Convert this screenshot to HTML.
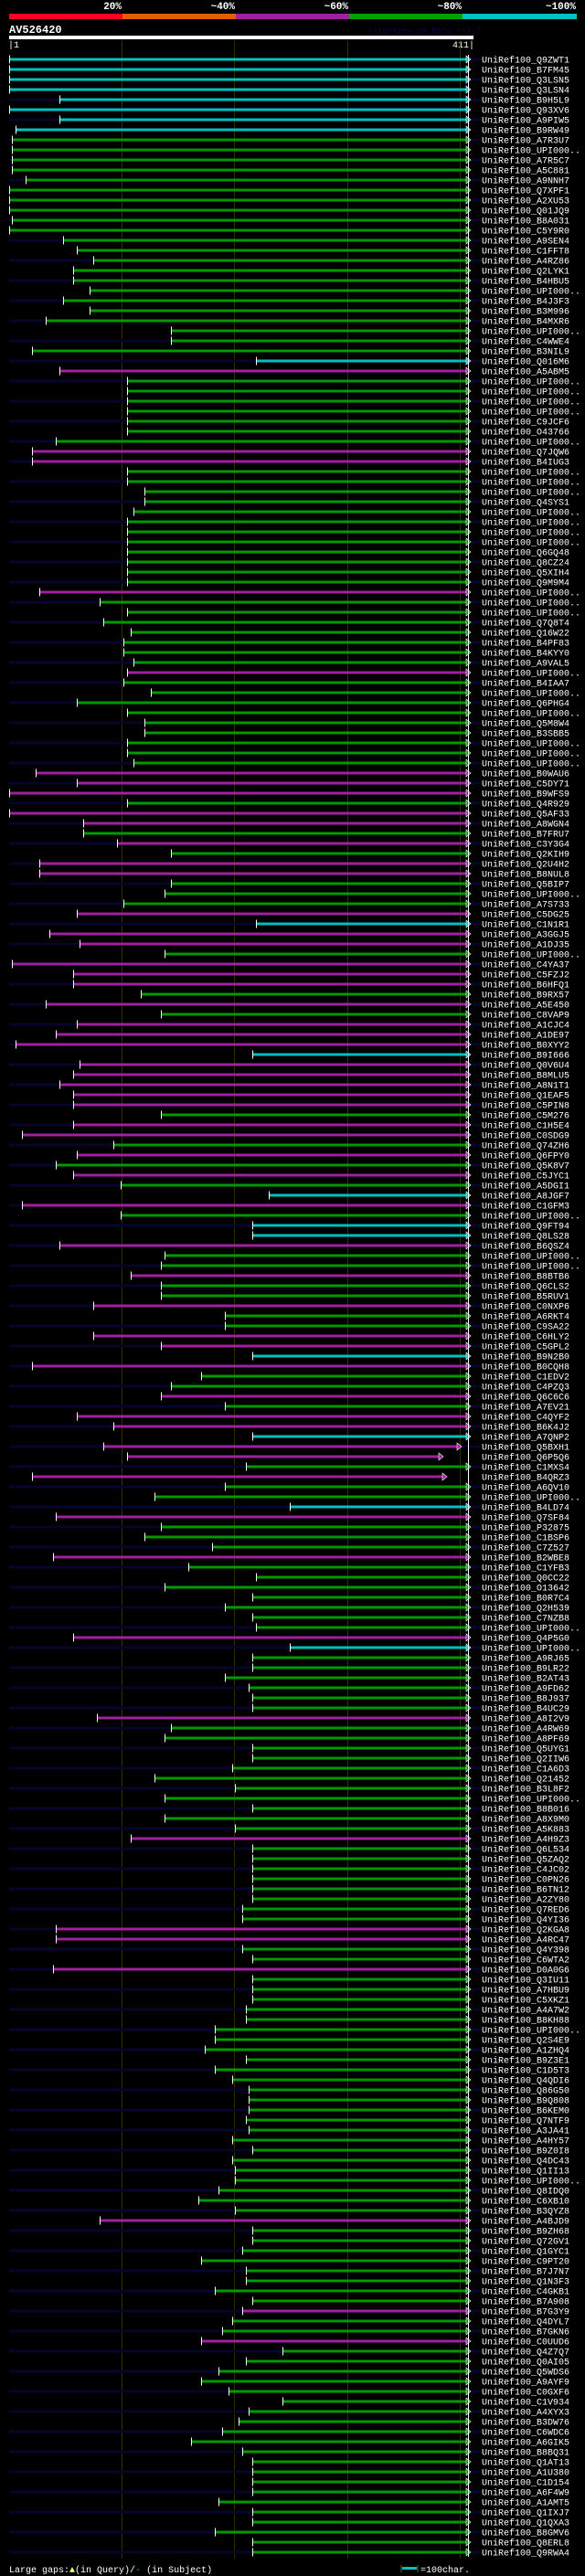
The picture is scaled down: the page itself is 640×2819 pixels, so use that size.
<!DOCTYPE html>
<html><head><meta charset="utf-8"><style>
html,body{margin:0;padding:0;background:#000;}
svg{display:block;}
text{font-family:"Liberation Mono",monospace;}
</style></head><body>
<svg id="chart" width="640" height="2819" viewBox="0 0 640 2819" xmlns="http://www.w3.org/2000/svg">
<rect x="0" y="0" width="640" height="2819" fill="#000"/>
<g>
<text x="133" y="10" fill="#fff" font-size="11" font-weight="bold" text-anchor="end">20%</text>
<text x="257" y="10" fill="#fff" font-size="11" font-weight="bold" text-anchor="end">~40%</text>
<text x="381" y="10" fill="#fff" font-size="11" font-weight="bold" text-anchor="end">~60%</text>
<text x="505" y="10" fill="#fff" font-size="11" font-weight="bold" text-anchor="end">~80%</text>
<text x="630" y="10" fill="#fff" font-size="11" font-weight="bold" text-anchor="end">~100%</text>
<rect x="10" y="15" width="124" height="6" fill="#ff0022"/>
<rect x="134" y="15" width="124" height="6" fill="#e06000"/>
<rect x="258" y="15" width="124" height="6" fill="#a020a0"/>
<rect x="382" y="15" width="124" height="6" fill="#00a000"/>
<rect x="506" y="15" width="125" height="6" fill="#00c0c0"/>
</g>
<text x="10" y="36" fill="#fff" font-size="12" font-weight="bold">AV526420</text>
<text x="402" y="36" fill="#0a0a40" font-size="9">AlignView.pm Beta rel.7</text>
<rect x="10" y="39" width="508" height="4" fill="#fff"/>
<text x="9" y="52" fill="#fff" font-size="10">|1</text>
<text x="519" y="52" fill="#fff" font-size="10" text-anchor="end">411|</text>
<g id="grid"></g>
<g id="rows"></g>
<line x1="512.5" y1="60" x2="512.5" y2="2798" stroke="#fff" stroke-width="1"/>
<g>
<text x="10" y="2815" fill="#fff" font-size="10">Large gaps:<tspan fill="#ffff80">▲</tspan>(in Query)/<tspan fill="#00c0c0">-</tspan> (in Subject)</text>
<line x1="439" y1="2807" x2="439" y2="2815" stroke="#776600"/>
<rect x="440" y="2809" width="16" height="3" fill="#00c0c0"/>
<line x1="457" y1="2807" x2="457" y2="2815" stroke="#776600"/>
<text x="460" y="2815" fill="#fff" font-size="10">=100char.</text>
</g>
</svg>
<script>
const starts = [10,10,10,10,65,10,65,17,13,13,13,13,28,10,10,10,13,10,69,84,102,80,80,98,69,98,50,187,187,35,280,65,139,139,139,139,139,139,61,35,35,
139,139,158,158,146,139,139,139,139,139,139,139,43,109,139,113,143,135,135,146,139,135,165,84,139,158,158,139,139,146,39,84,10,139,10,91,91,128,187,43,43,187,
180,135,84,280,54,87,180,13,80,80,154,50,176,84,61,17,276,87,80,65,80,80,176,80,24,124,84,61,80,132,294,24,132,276,276,65,180,176,143,176,176,102,
246,246,102,176,276,35,220,187,176,246,84,124,276,113,139,269,35,246,169,317,61,176,158,232,58,206,280,180,276,246,276,280,80,317,276,276,246,272,276,276,106,187,
180,276,276,254,169,257,180,276,180,257,143,276,276,276,276,276,276,265,265,61,61,265,276,58,276,276,276,269,269,235,235,224,269,235,254,272,272,272,269,272,254,276,
254,257,257,239,217,257,109,276,276,265,220,269,269,235,276,265,254,243,220,309,269,239,220,250,309,272,261,243,209,265,276,276,276,276,239,276,276,235,276,276];
const colorCodes = "cccccccc"+"gggggggggggggggggggggg"+"cm"+"ggggggg"+"mm"+"gggggggggggg"+"m"+"ggggggg"+"m"+"ggggggggg"+"mmm"+"g"+"mm"+"g"+"m"+"g"+"mm"+"ggg"+"m"+"c"+"mm"+"g"+"mmm"+"g"+"m"+"g"+"mmm"+"c"+"mmmmm"+"g"+"mm"+"g"+"m"+"g"+"m"+"g"+"c"+"m"+"g"+"cc"+"m"+"gg"+"m"+"gg"+"m"+"gg"+"mm"+"c"+"m"+"gg"+"m"+"g"+"mm"+"c"+"mm"+"g"+"m"+"gg"+"c"+"m"+"ggg"+"m"+"ggggggg"+"m"+"c"+"gggggg"+"m"+"ggggggggggg"+"m"+"gggggggg"+"mm"+"gg"+"m"+"gggggggggggggggggggggggg"+"m"+"gggggggg"+"m"+"gg"+"m"+"ggggggggggggggggggggg";
const endOverrides = {138:500,139:480,141:484};
const labels = ["Q9ZWT1","B7FM45","Q3LSN5","Q3LSN4","B9H5L9","Q93XV6","A9PIW5","B9RW49","A7R3U7","UPI000..","A7R5C7","A5C881","A9NNH7","Q7XPF1","A2XU53","Q01JQ9","B8A031","C5Y9R0","A9SEN4","C1FFT8","A4RZ86","Q2LYK1","B4HBU5","UPI000..","B4J3F3","B3M996","B4MXR6","UPI000..","C4WWE4","B3NIL9","Q016M6","A5ABM5","UPI000..","UPI000..","UPI000..","UPI000..","C9JCF6","O43766","UPI000..","Q7JQW6","B4IUG3",
"UPI000..","UPI000..","UPI000..","Q4SYS1","UPI000..","UPI000..","UPI000..","UPI000..","Q6GQ48","Q8CZ24","Q5XIH4","Q9M9M4","UPI000..","UPI000..","UPI000..","Q7Q8T4","Q16W22","B4PF83","B4KYY0","A9VAL5","UPI000..","B4IAA7","UPI000..","Q6PHG4","UPI000..","Q5M8W4","B3SBB5","UPI000..","UPI000..","UPI000..","B0WAU6","C5DY71","B9WFS9","Q4R929","Q5AF33","A8WGN4","B7FRU7","C3Y3G4","Q2KIH9","Q2U4H2","B8NUL8","Q5BIP7",
"UPI000..","A7S733","C5DG25","C1N1R1","A3GGJ5","A1DJ35","UPI000..","C4YA37","C5FZJ2","B6HFQ1","B9RX57","A5E450","C8VAP9","A1CJC4","A1DE97","B0XYY2","B9I666","Q0V6U4","B8MLU5","A8N1T1","Q1EAF5","C5PIN8","C5M276","C1H5E4","C0SDG9","Q74ZH6","Q6FPY0","Q5K8V7","C5JYC1","A5DGI1","A8JGF7","C1GFM3","UPI000..","Q9FT94","Q8LS28","B6QSZ4","UPI000..","UPI000..","B8BTB6","Q6CLS2","B5RUV1","C0NXP6",
"A6RKT4","C9SA22","C6HLY2","C5GPL2","B9N2B0","B0CQH8","C1EDV2","C4PZQ3","Q6C6C6","A7EV21","C4QYF2","B6K4J2","A7QNP2","Q5BXH1","Q6P5Q6","C1MXS4","B4QRZ3","A6QV10","UPI000..","B4LD74","Q7SF84","P32875","C1BSP6","C7Z527","B2WBE8","C1YFB3","Q0CC22","O13642","B0R7C4","Q2H539","C7NZB8","UPI000..","Q4P5G0","UPI000..","A9RJ65","B9LR22","B2AT43","A9FD62","B8J937","B4UC29","A8I2V9","A4RW69",
"A8PF69","Q5UYG1","Q2IIW6","C1A6D3","Q21452","B3L8F2","UPI000..","B8B016","A8X9M0","A5K883","A4H9Z3","Q6L534","Q5ZAQ2","C4JC02","C0PN26","B6TN12","A2ZY80","Q7RED6","Q4YI36","Q2KGA8","A4RC47","Q4Y398","C6WTA2","D0A0G6","Q3IU11","A7HBU9","C5XKZ1","A4A7W2","B8KH88","UPI000..","Q2S4E9","A1ZHQ4","B9Z3E1","C1D5T3","Q4QDI6","Q86G50","B9Q808","B6KEM0","Q7NTF9","A3JA41","A4HY57","B9Z0I8",
"Q4DC43","Q1II13","UPI000..","Q8IDQ0","C6XB10","B3QYZ8","A4BJD9","B9ZH68","Q72GV1","Q1GYC1","C9PT20","B7J7N7","Q1N3F3","C4GKB1","B7A908","B7G3Y9","Q4DYL7","B7GKN6","C0UUD6","Q4Z7Q7","Q0AI05","Q5WDS6","A9AYF9","C0GXF6","C1V934","A4XYX3","B3DW76","C6WDC6","A6GIK5","B8BQ31","Q1AT13","A1U380","C1D154","A6F4W9","A1AMT5","Q1IXJ7","Q1QXA3","B8GMV6","Q8ERL8","Q9RWA4"];
const gridTicks = [133,256,380,503];

const NS = "http://www.w3.org/2000/svg";
const palette = {c:"#00c0c0", g:"#009a00", m:"#a020a0"};
const rowY = i => 65 + 11*i;
function mk(tag, attrs){const e=document.createElementNS(NS,tag);for(const k in attrs)e.setAttribute(k,attrs[k]);return e;}
const grid = document.getElementById("grid");
gridTicks.forEach(x=>{
  const l = mk("line",{x1:x+0.5,y1:44,x2:x+0.5,y2:2800,stroke:"#2e2e00","stroke-width":1});
  
  
  grid.appendChild(l);
});
const rows = document.getElementById("rows");
for(let i=0;i<starts.length;i++){
  const y = rowY(i);
  const col = palette[colorCodes[i]] || palette.g;
  const end = endOverrides[i] || 510;
  const g = mk("g",{});
  
  
  if(i%2===0){
    const s = mk("rect",{x:10,y:y-1.5,width:517,height:3,fill:"#05052e"});
    
    
    g.appendChild(s);
  }
  const b = mk("rect",{x:starts[i],y:y-1.5,width:end-starts[i],height:3,fill:col});
  
  
  g.appendChild(b);
  const t = mk("line",{x1:starts[i]+0.5,y1:y-4.5,x2:starts[i]+0.5,y2:y+4.5,stroke:"#fff","stroke-width":1});
  
  
  g.appendChild(t);
  const a = mk("polygon",{points:`${end},${y-4} ${end+5},${y} ${end},${y+4}`,fill:col,stroke:"#fff","stroke-width":0.6});
  
  
  g.appendChild(a);
  const lb = mk("text",{x:527,y:y+3.5,fill:"#fff","font-size":10});
  lb.textContent = "UniRef100_" + labels[i];
  
  
  g.appendChild(lb);
  rows.appendChild(g);
}
</script>
</body></html>
